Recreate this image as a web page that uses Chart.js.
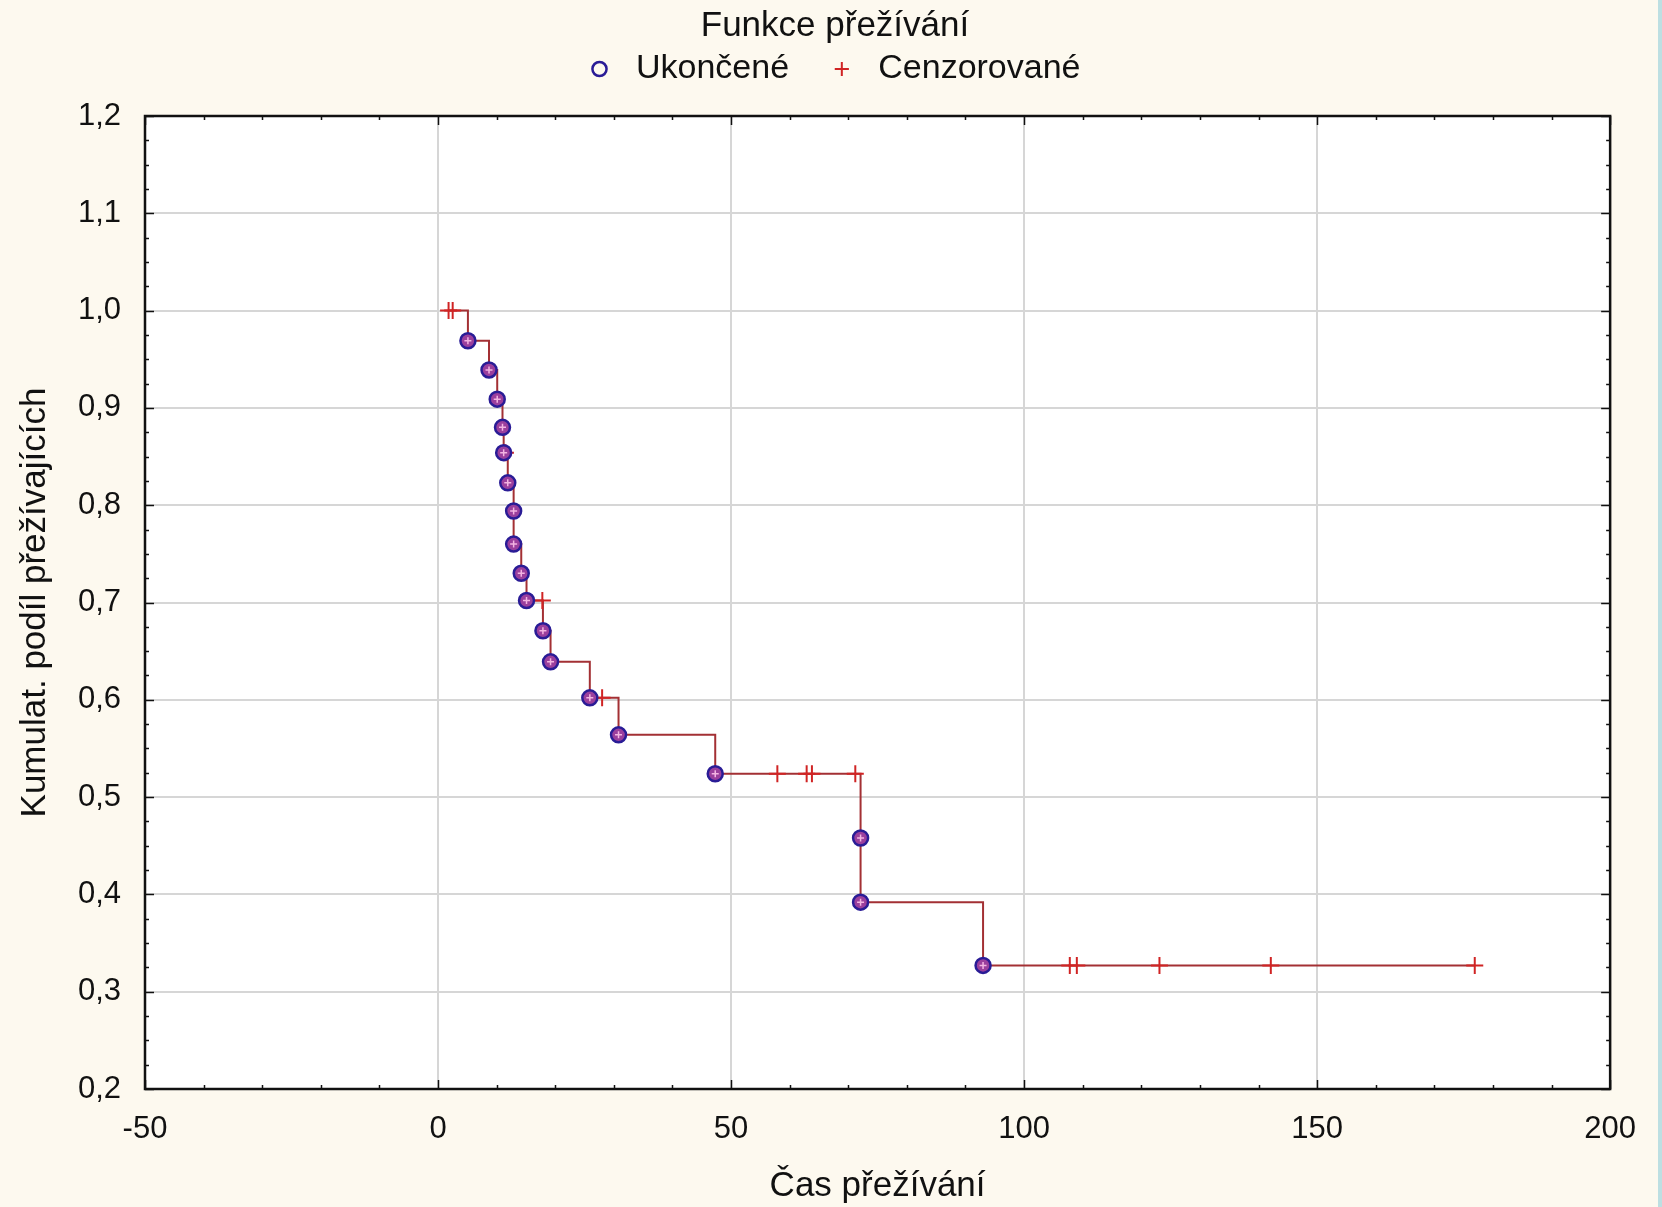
<!DOCTYPE html>
<html>
<head>
<meta charset="utf-8">
<title>Funkce přežívání</title>
<script src="https://cdn.jsdelivr.net/npm/chart.js@4.4.1/dist/chart.umd.min.js"></script>
<style>
  body { margin: 0; background: #bddfe2; }
  #wrap { width: 1658px; height: 1207px; }
</style>
</head>
<body>
<div id="wrap"><canvas id="km" width="1658" height="1207"></canvas></div>
<script>
// event times (Ukončené) and survival
const eventTimes = [5.1, 8.7, 10.1, 11.0, 11.2, 11.9, 12.9, 12.9, 14.2, 15.1, 17.9, 19.2, 25.9, 30.8, 47.3, 72.1, 72.1, 93.0];
const eventSurv = [0.969, 0.939, 0.909, 0.880, 0.854, 0.823, 0.794, 0.760, 0.730, 0.702, 0.671, 0.639, 0.602, 0.564, 0.524, 0.458, 0.392, 0.327];
// censored observations (Cenzorované)
const censTimes = [1.8, 2.5, 11.5, 17.8, 28.0, 57.9, 62.9, 63.8, 71.2, 107.8, 109.0, 123.1, 142.1, 176.9];
const censSurv = [1.0, 1.0, 0.854, 0.702, 0.602, 0.524, 0.524, 0.524, 0.524, 0.327, 0.327, 0.327, 0.327, 0.327];
// tick labels
const xTicks = [-50, 0, 50, 100, 150, 200];
const yTicks = [0.2, 0.3, 0.4, 0.5, 0.6, 0.7, 0.8, 0.9, 1.0, 1.1, 1.2];

const FONT = "'Liberation Sans', Arial, sans-serif";
const TXT = "#111";
const BG = "#fdf9ef";

// step curve: from first observation, through every event, to the last observation
const curve = [{ x: censTimes[0], y: 1.0 }];
eventTimes.forEach((t, i) => curve.push({ x: t, y: eventSurv[i] }));
curve.push({ x: censTimes[censTimes.length - 1], y: censSurv[censSurv.length - 1] });

const events = eventTimes.map((t, i) => ({ x: t, y: eventSurv[i] }));
const censored = censTimes.map((t, i) => ({ x: t, y: censSurv[i] }));

// background, white plot area, frame and inward ticks
const framePlugin = {
  id: "frame",
  beforeDraw(chart) {
    const { ctx, chartArea: a } = chart;
    ctx.save();
    ctx.fillStyle = BG;
    ctx.fillRect(0, 0, chart.width, chart.height);
    ctx.fillStyle = "#ffffff";
    ctx.fillRect(a.left, a.top, a.right - a.left, a.bottom - a.top);
    ctx.restore();
  },
  afterDraw(chart) {
    const { ctx, chartArea: a, scales } = chart;
    ctx.save();
    ctx.strokeStyle = "#111";
    ctx.lineWidth = 1.5;
    ctx.beginPath();
    for (let v = -50; v <= 200; v += 10) {
      const px = Math.round(scales.x.getPixelForValue(v)) + 0.5;
      const len = v % 50 === 0 ? 9 : 4;
      ctx.moveTo(px, a.bottom); ctx.lineTo(px, a.bottom - len);
      ctx.moveTo(px, a.top); ctx.lineTo(px, a.top + len);
    }
    for (let k = 0; k <= 40; k++) {
      const v = 0.2 + k * 0.025;
      const py = Math.round(scales.y.getPixelForValue(v)) + 0.5;
      const len = k % 4 === 0 ? 9 : 4;
      ctx.moveTo(a.left, py); ctx.lineTo(a.left + len, py);
      ctx.moveTo(a.right, py); ctx.lineTo(a.right - len, py);
    }
    ctx.stroke();
    ctx.lineWidth = 2.5;
    ctx.strokeRect(a.left, a.top, a.right - a.left, a.bottom - a.top);
    ctx.restore();
  }
};

// empty axes used only as spacers around the plot
const spacer = (pos, size) => ({
  type: "linear",
  position: pos,
  display: true,
  grid: { display: false },
  border: { display: false },
  ticks: { display: false },
  afterFit: (s) => {
    if (pos === "top") s.height = size; else s.width = size;
  }
});

new Chart(document.getElementById("km"), {
  type: "scatter",
  data: {
    datasets: [
      {
        // light cross inside each circle
        label: "inner",
        data: events,
        pointStyle: "cross",
        pointRadius: 3.5,
        pointBorderColor: "#f3b4e2",
        pointBorderWidth: 1.5,
        order: 0
      },
      {
        label: "Ukončené",
        data: events,
        pointStyle: "circle",
        pointRadius: 7.5,
        pointBackgroundColor: "#9b3f9d",
        pointBorderColor: "#2a1c96",
        pointBorderWidth: 2.5,
        order: 1
      },
      {
        label: "Cenzorované",
        data: censored,
        pointStyle: "cross",
        pointRadius: 8.5,
        pointBorderColor: "#d02424",
        pointBorderWidth: 2,
        order: 2
      },
      {
        label: "curve",
        type: "line",
        data: curve,
        stepped: "before",
        borderColor: "#a33034",
        borderWidth: 2,
        pointRadius: 0,
        fill: false,
        order: 3
      }
    ]
  },
  options: {
    responsive: false,
    animation: false,
    layout: { padding: { left: 12, right: 0, top: 0, bottom: 0 } },
    plugins: {
      tooltip: { enabled: false },
      title: {
        display: true,
        text: "Funkce přežívání",
        color: TXT,
        font: { family: FONT, size: 35, weight: "normal" },
        padding: { top: 5, bottom: 0 }
      },
      legend: {
        display: true,
        labels: {
          usePointStyle: true,
          boxWidth: 20,
          boxHeight: 10,
          padding: 5,
          color: TXT,
          font: { family: FONT, size: 34 },
          filter: (item) => item.datasetIndex === 1 || item.datasetIndex === 2,
          generateLabels(chart) {
            const items = Chart.defaults.plugins.legend.labels.generateLabels(chart);
            return items.map((it) => {
              if (it.datasetIndex === 1) {
                it.fillStyle = BG;
                it.text = " " + it.text + "    ";
              } else if (it.datasetIndex === 2) {
                it.text = " " + it.text;
              }
              return it;
            });
          }
        }
      }
    },
    scales: {
      x: {
        type: "linear",
        min: -50,
        max: 200,
        afterBuildTicks: (s) => { s.ticks = xTicks.map((v) => ({ value: v })); },
        afterFit: (s) => { s.height = 118; },
        grid: { color: "#d6d6d6", lineWidth: 2, drawTicks: false },
        border: { display: false },
        ticks: {
          color: TXT,
          padding: 22,
          maxRotation: 0,
          font: { family: FONT, size: 31 },
          callback: (v) => String(v)
        },
        title: {
          display: true,
          text: "Čas přežívání",
          color: TXT,
          font: { family: FONT, size: 35 },
          padding: { top: 0, bottom: 0 }
        }
      },
      y: {
        type: "linear",
        min: 0.2,
        max: 1.2,
        afterBuildTicks: (s) => { s.ticks = yTicks.map((v) => ({ value: v })); },
        afterFit: (s) => { s.width = 133; },
        grid: { color: "#d6d6d6", lineWidth: 2, drawTicks: false },
        border: { display: false },
        ticks: {
          color: TXT,
          padding: 24,
          font: { family: FONT, size: 31 },
          callback: (v) => v.toFixed(1).replace(".", ",")
        },
        title: {
          display: true,
          text: "Kumulat. podíl přežívajících",
          color: TXT,
          font: { family: FONT, size: 35 },
          padding: { top: 2, bottom: 0 }
        }
      },
      topGap: spacer("top", 20),
      rightGap: spacer("right", 38)
    }
  },
  plugins: [framePlugin]
});
</script>
</body>
</html>
